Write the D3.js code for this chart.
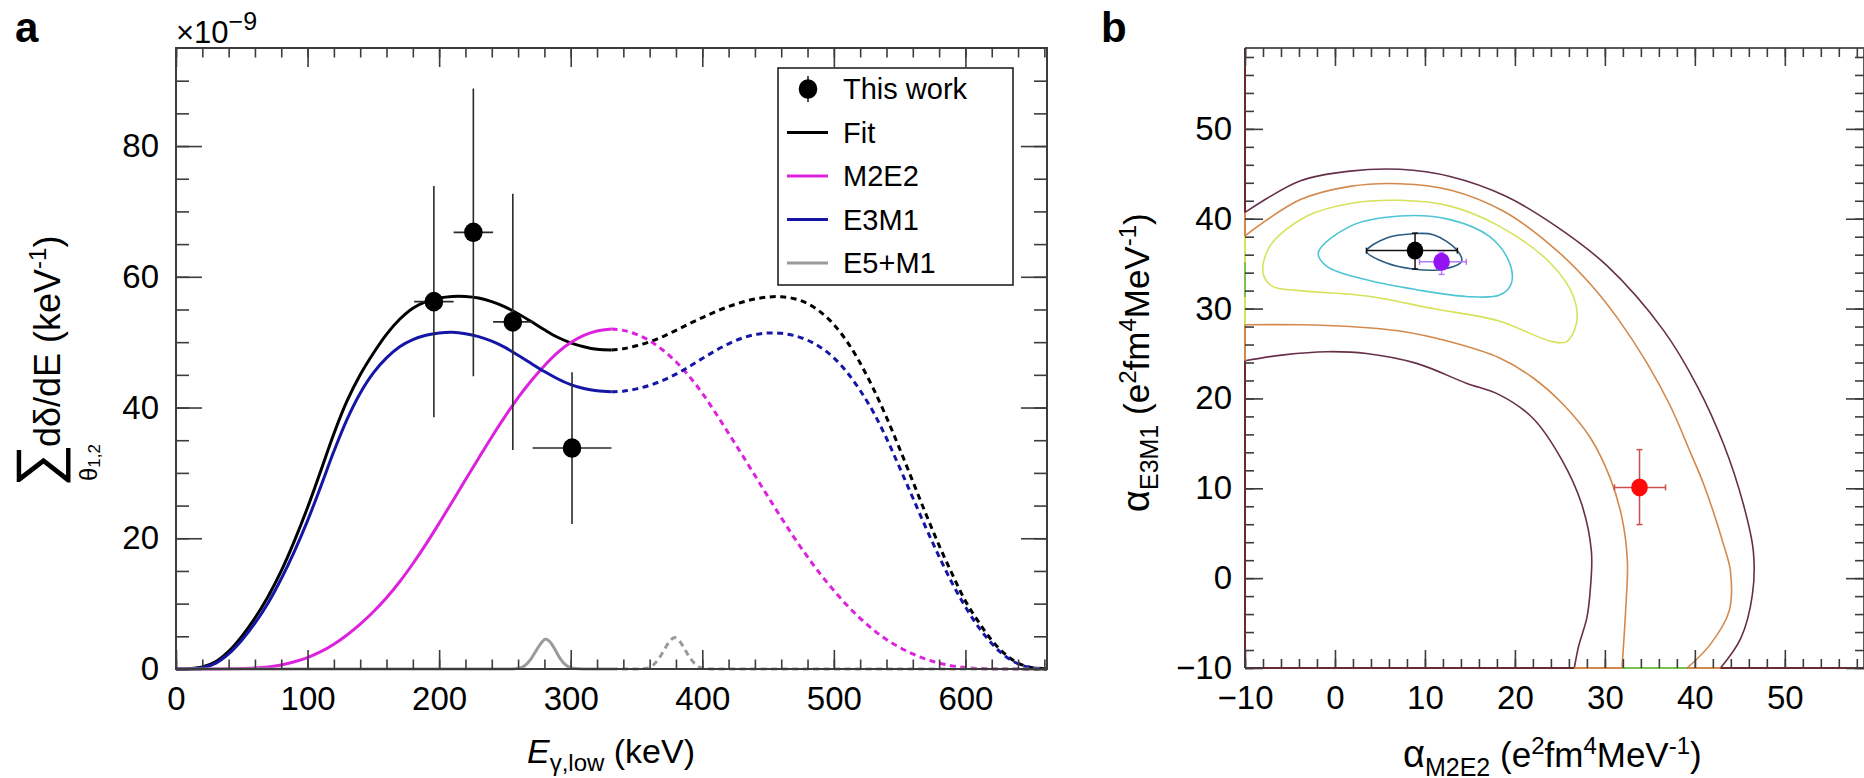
<!DOCTYPE html>
<html>
<head>
<meta charset="utf-8">
<script src="https://cdn.jsdelivr.net/npm/d3@7"></script>
<style>
  html, body { margin: 0; padding: 0; background: #fff; }
  svg { display: block; }
  text { white-space: pre; }
</style>
</head>
<body>
<svg id="fig" width="1864" height="778"></svg>
<script>
// ---------------- Panel a: summed two-photon spectrum ----------------
const energy = [0,10,20,30,40,50,60,70,80,90,100,110,120,130,140,150,160,170,180,190,200,210,220,230,240,250,260,270,280,290,300,310,320,331,
  340,350,360,370,380,390,400,410,420,430,440,450,460,470,480,490,500,510,520,530,540,550,560,570,580,590,600,610,620,630,640,650,662];

const fitRate = [0,0.05,0.3,1.1,2.7,5.0,7.8,11.1,15.0,19.6,24.7,30.3,36.0,41.0,45.0,48.3,51.2,53.5,55.2,56.2,56.75,57.0,57.0,56.75,56.2,55.4,54.35,53.15,51.9,50.75,49.9,49.3,48.9,48.8,
  49.0,49.45,50.05,50.85,51.8,52.8,53.75,54.65,55.45,56.1,56.6,56.9,56.95,56.65,55.9,54.6,52.7,50.1,46.8,42.9,38.5,33.7,28.7,23.7,18.9,14.5,10.4,7.2,4.4,2.3,0.9,0.25,0];

const m2e2Rate = [0,0,0,0,0.02,0.07,0.15,0.32,0.62,1.1,1.75,2.65,3.8,5.2,6.85,8.75,10.9,13.35,16.1,19.1,22.3,25.6,28.95,32.25,35.5,38.6,41.5,44.1,46.4,48.4,49.95,51.05,51.7,52.0,
  51.8,51.2,50.2,48.8,47.0,44.8,42.2,39.2,36.05,32.85,29.6,26.35,23.15,20.05,17.15,14.45,12.0,9.75,7.75,6.0,4.5,3.3,2.3,1.5,0.9,0.48,0.22,0.08,0.02,0,0,0,0];

const e3m1Rate = [0,0.03,0.2,0.85,2.3,4.4,7.0,10.1,13.8,18.0,22.7,27.9,33.3,38.2,42.2,45.3,47.6,49.3,50.4,51.05,51.4,51.5,51.3,50.85,50.15,49.2,48.0,46.75,45.5,44.4,43.5,42.9,42.55,42.4,
  42.5,42.85,43.4,44.15,45.1,46.25,47.5,48.7,49.75,50.6,51.15,51.4,51.35,51.0,50.3,49.2,47.6,45.4,42.6,39.3,35.3,30.8,26.2,21.6,17.2,13.1,9.5,6.4,3.9,2.0,0.8,0.2,0];

const e5m1Energy = [0,255,260,265,270,274,278,281,284,288,292,297,302,310,331,350,357,362,367,371,375,379,383,387,391,396,401,410,662];
const e5m1Rate   = [0,0,0.1,0.5,1.6,2.9,4.1,4.6,4.2,3.0,1.6,0.5,0.1,0,0,0,0.1,0.5,1.6,2.9,4.2,4.8,4.2,2.9,1.6,0.5,0.1,0,0];

// curves are solid below this energy and dashed above it
const splitEnergy = 331;

const pointEnergy    = [196, 226, 256, 301];
const pointEnergyErr = [15, 15, 15, 30];
const pointRate      = [56.2, 66.8, 53.1, 33.8];
const pointRateErr   = [17.7, 22.0, 19.6, 11.6];

const legendLabels = ["This work", "Fit", "M2E2", "E3M1", "E5+M1"];

const xMajorA = [0, 100, 200, 300, 400, 500, 600];
const xMinorA = d3.range(0, 661, 20);
const yMajorA = [0, 20, 40, 60, 80];
const yMinorA = d3.range(0, 95, 5);

// ---------------- Panel b: chi-square contours ----------------
const contourCore   = [[3.52,36.36],[5.74,37.85],[8.7,38.33],[10.93,38.22],[13.52,36.55],[14.07,35.25],[11.67,34.33],[8.7,34.4],[5.74,35.07]];
const contourCyan   = [[-1.85,36.2],[1.67,39.15],[7.2,40.3],[12.8,39.9],[17.2,38.0],[19.4,35.1],[19.6,32.8],[18.3,31.5],[14.6,31.35],[9.07,32.1],[3.5,33.2],[-0.9,34.7]];
const contourYellow = [[-8.0,34.0],[-7.2,37.0],[-3.1,40.3],[1.67,41.7],[7.2,42.05],[12.8,41.4],[18.3,39.15],[23.9,35.1],[26.5,31.35],[26.85,28.4],[25.7,26.3],[23.9,26.4],[18.3,28.6],[10.9,30.0],[3.5,31.4],[-3.9,32.0],[-7.0,32.5]];
const contourOrangeOuter = [[-10,38.1],[-3.9,42.1],[1.67,43.6],[7.2,43.9],[12.8,43.2],[18.8,40.8],[24.5,36.6],[28.5,32.6],[31.5,28.8],[34.7,23.9],[37.3,19.1],[39.5,14.0],[41.0,10.4],[43.2,3.7],[43.96,0.76],[43.8,-3.7],[41.7,-7.4],[39.15,-10]];
const contourOrangeInner = [[-10,28.2],[-3.9,28.2],[1.67,28.0],[7.2,27.5],[12.8,26.3],[18.3,24.5],[22.0,22.3],[25.4,19.3],[28.4,15.6],[30.6,11.1],[31.9,6.7],[32.5,1.9],[32.3,-3.7],[31.9,-10]];
const contourMaroonOuter = [[-10,40.7],[-3.9,44.2],[1.67,45.3],[7.2,45.5],[12.8,44.7],[19.0,42.5],[24.6,39.15],[30.2,34.8],[36.5,27.6],[40.3,21.3],[43.2,14.9],[45.4,8.2],[46.5,3.0],[46.4,-1.8],[45.1,-6.7],[42.85,-10]];
const contourMaroonInner = [[-10,24.2],[-5.7,24.85],[-0.9,25.2],[3.5,25.0],[9.07,23.9],[14.6,21.7],[18.3,20.4],[22.0,17.8],[25.2,13.2],[27.4,8.3],[28.5,3.0],[28.4,-1.0],[28.0,-4.4],[27.1,-7.5],[26.6,-10]];

// contour pieces running along the lower and left borders
const bottomEdgeOrange = [[26.6, 31.9], [39.15, 42.85]];
const bottomEdgeGreen  = [[31.9, 39.15]];
const leftEdgeOrange   = [[24.2, 28.2], [38.1, 40.7]];
const leftEdgeYellow   = [[28.2, 31.3], [35.1, 38.1]];
const leftEdgeGreen    = [[31.3, 35.1]];

// best fit, theory and previous values: [x, y, xLow, xHigh, yLow, yHigh]
const fitPoint    = [8.9, 36.45, 3.5, 13.6, 34.4, 38.4];
const theoryPoint = [11.85, 35.2, 9.4, 14.6, 33.8, 36.3];
const otherPoint  = [33.85, 10.1, 31.07, 36.74, 5.96, 14.3];

const xMajorB = [-10, 0, 10, 20, 30, 40, 50];
const xMinorB = d3.range(-10, 59, 2);
const yMajorB = [-10, 0, 10, 20, 30, 40, 50];
const yMinorB = d3.range(-10, 59, 2);

// ---------------------------------------------------------------------
const FONT = '"Liberation Sans", Arial, Helvetica, sans-serif';
const AXIS_COLOR = "#3c3c3c";
const svg = d3.select("#fig");
svg.append("rect").attr("width", 1864).attr("height", 778).attr("fill", "#fff");

function rich(parent, x, y, parts, anchor) {
  const t = parent.append("text").attr("x", x).attr("y", y)
    .attr("font-family", FONT).attr("fill", "#000")
    .attr("text-anchor", anchor || "start");
  let shift = 0;
  parts.forEach(p => {
    const s = p.shift || 0;
    t.append("tspan").attr("dy", s - shift).attr("font-size", p.size)
      .attr("font-style", p.italic ? "italic" : null)
      .attr("font-weight", p.bold ? "bold" : null)
      .text(p.text);
    shift = s;
  });
  return t;
}

function styleAxis(sel, fs) {
  sel.select(".domain").remove();
  sel.attr("font-family", FONT).attr("font-size", fs);
  sel.selectAll(".tick line").attr("stroke", AXIS_COLOR).attr("stroke-width", 1.6);
  sel.selectAll(".tick text").attr("fill", "#000");
}

function frameAxes(g, x, y, c) {
  const [xl, xr] = x.range();
  const [yb, yt] = y.range();
  const fmt = d3.format("d");
  const add = (tr, axis) => g.append("g").attr("transform", tr).call(axis).call(s => styleAxis(s, c.fs));
  // bottom and top
  add(`translate(0,${yb})`, d3.axisBottom(x).tickValues(c.xMinor).tickSize(-c.xLen / 2).tickFormat(""));
  add(`translate(0,${yb})`, d3.axisBottom(x).tickValues(c.xMajor).tickSize(-c.xLen).tickPadding(c.xPad).tickFormat(fmt));
  add(`translate(0,${yt})`, d3.axisTop(x).tickValues(c.xMinor).tickSize(-c.xLen / 2).tickFormat(""));
  add(`translate(0,${yt})`, d3.axisTop(x).tickValues(c.xMajor).tickSize(-c.xLen).tickFormat(""));
  // left and right
  add(`translate(${xl},0)`, d3.axisLeft(y).tickValues(c.yMinor).tickSize(-c.yLen / 2).tickFormat(""));
  add(`translate(${xl},0)`, d3.axisLeft(y).tickValues(c.yMajor).tickSize(-c.yLen).tickPadding(c.yPad).tickFormat(fmt));
  add(`translate(${xr},0)`, d3.axisRight(y).tickValues(c.yMinor).tickSize(-c.yLen / 2).tickFormat(""));
  add(`translate(${xr},0)`, d3.axisRight(y).tickValues(c.yMajor).tickSize(-c.yLen).tickFormat(""));
}

// =================== Panel a ===================
const xA = d3.scaleLinear().domain([0, 662]).range([176, 1047]);
const yA = d3.scaleLinear().domain([0, 95]).range([669, 48]);
const gA = svg.append("g");

gA.append("clipPath").attr("id", "clipA").append("rect")
  .attr("x", xA(0)).attr("y", yA(95)).attr("width", xA(662) - xA(0)).attr("height", yA(0) - yA(95) + 2);

const lineSmooth = d3.line().x(d => xA(d[0])).y(d => yA(d[1])).curve(d3.curveCatmullRom.alpha(0.5));
const lineMono = d3.line().x(d => xA(d[0])).y(d => yA(d[1])).curve(d3.curveMonotoneX);
const plotA = gA.append("g").attr("clip-path", "url(#clipA)");

const spectra = [
  { e: energy, r: fitRate, color: "#000000", gen: lineSmooth },
  { e: energy, r: m2e2Rate, color: "#dd22dd", gen: lineSmooth },
  { e: energy, r: e3m1Rate, color: "#1616a6", gen: lineSmooth },
  { e: e5m1Energy, r: e5m1Rate, color: "#9a9a9a", gen: lineMono }
];

spectra.forEach(s => {
  const pts = d3.zip(s.e, s.r);
  const lower = pts.filter(p => p[0] <= splitEnergy);
  const upper = pts.filter(p => p[0] >= splitEnergy);
  plotA.append("path").attr("d", s.gen(lower)).attr("fill", "none")
    .attr("stroke", s.color).attr("stroke-width", 3);
  plotA.append("path").attr("d", s.gen(upper)).attr("fill", "none")
    .attr("stroke", s.color).attr("stroke-width", 3).attr("stroke-dasharray", "6,4.5");
});

// measured points with error bars
const pts = d3.range(pointEnergy.length).map(i => ({
  e: pointEnergy[i], de: pointEnergyErr[i], r: pointRate[i], dr: pointRateErr[i]
}));
const pg = plotA.append("g");
pg.selectAll("line.ex").data(pts).join("line")
  .attr("x1", d => xA(d.e - d.de)).attr("x2", d => xA(d.e + d.de))
  .attr("y1", d => yA(d.r)).attr("y2", d => yA(d.r))
  .attr("stroke", "#2a2a2a").attr("stroke-width", 1.6);
pg.selectAll("line.ey").data(pts).join("line")
  .attr("x1", d => xA(d.e)).attr("x2", d => xA(d.e))
  .attr("y1", d => yA(d.r - d.dr)).attr("y2", d => yA(d.r + d.dr))
  .attr("stroke", "#2a2a2a").attr("stroke-width", 1.6);
pg.selectAll("ellipse").data(pts).join("ellipse")
  .attr("cx", d => xA(d.e)).attr("cy", d => yA(d.r)).attr("rx", 9.3).attr("ry", 9.8)
  .attr("fill", "#000");

// frame and ticks
gA.append("rect").attr("x", xA(0)).attr("y", yA(95)).attr("width", xA(662) - xA(0)).attr("height", yA(0) - yA(95))
  .attr("fill", "none").attr("stroke", AXIS_COLOR).attr("stroke-width", 2);
frameAxes(gA, xA, yA, { fs: 33, xLen: 19, yLen: 26, xPad: 18, yPad: 17,
  xMajor: xMajorA, xMinor: xMinorA, yMajor: yMajorA, yMinor: yMinorA });

// legend
const legendColors = ["#000000", "#000000", "#dd22dd", "#1616a6", "#9a9a9a"];
const rowY = d3.scalePoint().domain(legendLabels).range([89, 263]);
const leg = gA.append("g");
leg.append("rect").attr("x", 778).attr("y", 68).attr("width", 235).attr("height", 217)
  .attr("fill", "#fff").attr("stroke", "#222").attr("stroke-width", 1.6);
legendLabels.forEach((lab, i) => {
  const y = rowY(lab);
  if (i === 0) {
    leg.append("line").attr("x1", 808).attr("x2", 808).attr("y1", y - 13).attr("y2", y + 13)
      .attr("stroke", "#2a2a2a").attr("stroke-width", 1.6);
    leg.append("ellipse").attr("cx", 808).attr("cy", y).attr("rx", 9.3).attr("ry", 9.8).attr("fill", "#000");
  } else {
    leg.append("line").attr("x1", 787).attr("x2", 828).attr("y1", y).attr("y2", y)
      .attr("stroke", legendColors[i]).attr("stroke-width", 3);
  }
  leg.append("text").attr("x", 843).attr("y", y).attr("dy", "0.36em")
    .attr("font-family", FONT).attr("font-size", 29).attr("fill", "#000").text(lab);
});

// labels of panel a
rich(svg, 15, 42, [{ text: "a", size: 42, bold: true }]);
rich(svg, 176, 43, [{ text: "×10", size: 31 }, { text: "−9", size: 25, shift: -13 }]);
rich(svg, 611, 763, [
  { text: "E", size: 34, italic: true },
  { text: "γ,low", size: 24, shift: 8 },
  { text: " (keV)", size: 34, shift: 0 }
], "middle");

const ylA = svg.append("g").attr("transform", "translate(0,487) rotate(-90)");
ylA.append("text").attr("x", 0).attr("y", 58).attr("font-family", FONT).attr("font-size", 60).text("∑");
rich(ylA, 6, 97, [{ text: "θ", size: 24 }, { text: "1,2", size: 17, shift: 3 }]);
rich(ylA, 40, 60, [
  { text: "dδ/dE (keV", size: 36 },
  { text: "-1", size: 24, shift: -14 },
  { text: ")", size: 36, shift: 0 }
]);

// =================== Panel b ===================
const xB = d3.scaleLinear().domain([-10, 58.8]).range([1245, 1864]);
const yB = d3.scaleLinear().domain([-10, 59]).range([668, 48]);
const gB = svg.append("g");

gB.append("clipPath").attr("id", "clipB").append("rect")
  .attr("x", xB(-10)).attr("y", yB(59)).attr("width", xB(58.8) - xB(-10)).attr("height", yB(-10) - yB(59));
const plotB = gB.append("g").attr("clip-path", "url(#clipB)");

const lineOpen = d3.line().x(d => xB(d[0])).y(d => yB(d[1])).curve(d3.curveCatmullRom.alpha(0.5));
const lineClosed = d3.line().x(d => xB(d[0])).y(d => yB(d[1])).curve(d3.curveCatmullRomClosed.alpha(0.5));

const MAROON = "#66304a", ORANGE = "#d4894c", YELLOW = "#d6e25a", CYAN = "#4ec5d4", CORE = "#2c5c84", GREEN = "#79c24e";

[[contourMaroonOuter, MAROON], [contourMaroonInner, MAROON],
 [contourOrangeOuter, ORANGE], [contourOrangeInner, ORANGE]].forEach(([d, c]) => {
  plotB.append("path").attr("d", lineOpen(d)).attr("fill", "none").attr("stroke", c).attr("stroke-width", 1.6);
});
[[contourYellow, YELLOW], [contourCyan, CYAN], [contourCore, CORE]].forEach(([d, c]) => {
  plotB.append("path").attr("d", lineClosed(d)).attr("fill", "none").attr("stroke", c).attr("stroke-width", 1.6);
});

// frame of panel b: lower and left sides carry the outer contour colour
gB.append("line").attr("x1", xB(-10)).attr("x2", xB(58.8)).attr("y1", yB(59)).attr("y2", yB(59))
  .attr("stroke", "#5a5a5a").attr("stroke-width", 2);
gB.append("line").attr("x1", xB(58.8)).attr("x2", xB(58.8)).attr("y1", yB(59)).attr("y2", yB(-10))
  .attr("stroke", "#5a5a5a").attr("stroke-width", 2);
gB.append("line").attr("x1", xB(-10)).attr("x2", xB(58.8)).attr("y1", yB(-10)).attr("y2", yB(-10))
  .attr("stroke", "#6a2a2e").attr("stroke-width", 2);
gB.append("line").attr("x1", xB(-10)).attr("x2", xB(-10)).attr("y1", yB(59)).attr("y2", yB(-10))
  .attr("stroke", "#6a2a2e").attr("stroke-width", 2);

const edgeSeg = (segs, color, onBottom) => segs.forEach(([a, b]) => {
  if (onBottom) {
    gB.append("line").attr("x1", xB(a)).attr("x2", xB(b)).attr("y1", yB(-10)).attr("y2", yB(-10))
      .attr("stroke", color).attr("stroke-width", 2);
  } else {
    gB.append("line").attr("x1", xB(-10)).attr("x2", xB(-10)).attr("y1", yB(a)).attr("y2", yB(b))
      .attr("stroke", color).attr("stroke-width", 2);
  }
});
edgeSeg(bottomEdgeOrange, ORANGE, true);
edgeSeg(bottomEdgeGreen, GREEN, true);
edgeSeg(leftEdgeOrange, ORANGE, false);
edgeSeg(leftEdgeYellow, YELLOW, false);
edgeSeg(leftEdgeGreen, GREEN, false);

frameAxes(gB, xB, yB, { fs: 33, xLen: 18, yLen: 18, xPad: 18, yPad: 13,
  xMajor: xMajorB, xMinor: xMinorB, yMajor: yMajorB, yMinor: yMinorB });

// points with error bars and end caps
function errPoint(p, fill, barColor) {
  const [x, y, x0, x1, y0, y1] = p;
  const g = gB.append("g").attr("stroke", barColor).attr("stroke-width", 1.5);
  g.append("line").attr("x1", xB(x0)).attr("x2", xB(x1)).attr("y1", yB(y)).attr("y2", yB(y));
  g.append("line").attr("x1", xB(x)).attr("x2", xB(x)).attr("y1", yB(y0)).attr("y2", yB(y1));
  [x0, x1].forEach(v => g.append("line").attr("x1", xB(v)).attr("x2", xB(v)).attr("y1", yB(y) - 3).attr("y2", yB(y) + 3));
  [y0, y1].forEach(v => g.append("line").attr("x1", xB(x) - 3).attr("x2", xB(x) + 3).attr("y1", yB(v)).attr("y2", yB(v)));
  gB.append("ellipse").attr("cx", xB(x)).attr("cy", yB(y)).attr("rx", 8.3).attr("ry", 9).attr("fill", fill);
}
errPoint(fitPoint, "#000", "#111");
errPoint(theoryPoint, "#9413f2", "#b57af5");
errPoint(otherPoint, "#ff0a0a", "#c85050");

// labels of panel b
rich(svg, 1101, 42, [{ text: "b", size: 42, bold: true }]);
const unitParts = (sub) => [
  { text: "α", size: 38 },
  { text: sub, size: 25, shift: 9 },
  { text: " (e", size: 35, shift: 0 },
  { text: "2", size: 24, shift: -13 },
  { text: "fm", size: 35, shift: 0 },
  { text: "4", size: 24, shift: -13 },
  { text: "MeV", size: 35, shift: 0 },
  { text: "-1", size: 24, shift: -13 },
  { text: ")", size: 35, shift: 0 }
];
rich(svg, 1403, 767, unitParts("M2E2"));
const ylB = svg.append("g").attr("transform", "translate(0,512) rotate(-90)");
rich(ylB, 0, 1149, unitParts("E3M1"));
</script>
</body>
</html>
